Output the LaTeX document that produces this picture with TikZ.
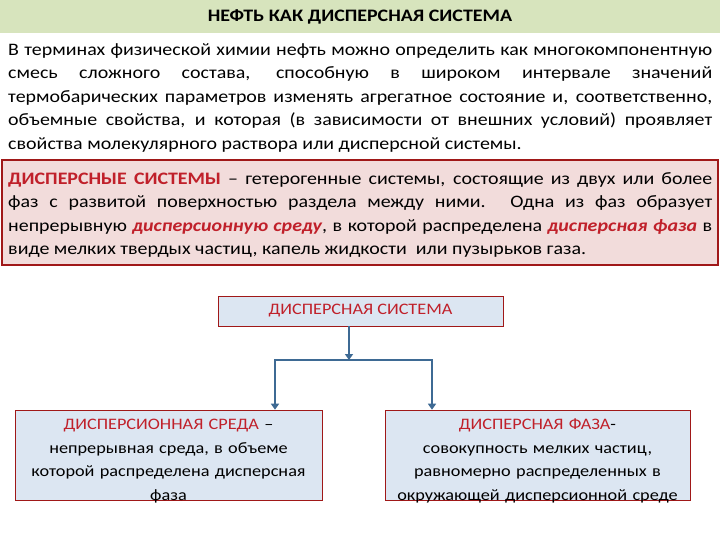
\documentclass[tikz,border=0pt]{standalone}
\usepackage{fontspec}
\setmainfont{Carlito}[FakeStretch=1.14]
\usetikzlibrary{arrows.meta}
\definecolor{dred}{HTML}{C0202A}
\definecolor{bord}{HTML}{A01818}
\definecolor{pinkf}{HTML}{F2DCDB}
\definecolor{bluef}{HTML}{DCE6F2}
\definecolor{greenf}{HTML}{D7E4BD}
\definecolor{steel}{HTML}{3E6A94}
\begin{document}
\begin{tikzpicture}[x=1pt,y=-1pt,
  para/.style={anchor=north west,inner sep=0pt,text width=704pt,align=justify,font=\fontsize{17.5}{23.6}\selectfont},
  box/.style={draw=bord,line width=0.6pt,fill=bluef,inner sep=0pt,align=center,font=\fontsize{16}{23.5}\selectfont},
  btext/.style={inner sep=0pt,align=center,text width=300pt,font=\fontsize{16}{23.5}\selectfont},
  conn/.style={steel,line width=2.8pt,-{Triangle[length=6pt,width=8pt]}}]
\useasboundingbox (0,0) rectangle (720,540);
\fill[white] (0,0) rectangle (720,540);
\fill[greenf] (0,0) rectangle (720,33);
\node[font=\bfseries\fontsize{17.5}{18}\selectfont] (title) at (360,17) {НЕФТЬ КАК ДИСПЕРСНАЯ СИСТЕМА};
\node[para] (p1) at (8,43) {В терминах физической химии нефть можно определить как многокомпонентную\linebreak
смесь сложного состава, способную в широком интервале значений\linebreak
термобарических параметров изменять агрегатное состояние и, соответственно,\linebreak
объемные свойства, и которая (в зависимости от внешних условий) проявляет\linebreak
свойства молекулярного раствора или дисперсной системы.};
\draw[bord,fill=pinkf,line width=1.2pt] (2,160) rectangle (718,265);
\node[para] (p2) at (8,172) {{\color{dred}\bfseries ДИСПЕРСНЫЕ СИСТЕМЫ} – гетерогенные системы, состоящие из двух или более\linebreak
фаз с развитой поверхностью раздела между ними. Одна из фаз образует\linebreak
непрерывную {\color{dred}\bfseries\itshape дисперсионную среду}, в которой распределена {\color{dred}\bfseries\itshape дисперсная фаза} в\linebreak
виде мелких твердых частиц, капель жидкости \ или пузырьков газа.};
\node[box,minimum width=285pt,minimum height=30pt,text=dred] (top) at (360.5,311) {\raisebox{-2pt}{ДИСПЕРСНАЯ СИСТЕМА}};
\node[box,minimum width=307pt,minimum height=90pt] (left) at (168.5,455) {};
\node[btext] (lefttext) at (168.5,461) {{\color{dred}ДИСПЕРСИОННАЯ СРЕДА} –\\непрерывная среда, в объеме\\которой распределена дисперсная\\фаза};
\node[box,minimum width=305pt,minimum height=90pt] (right) at (537.5,455) {};
\node[btext] (righttext) at (537.5,461) {{\color{dred}ДИСПЕРСНАЯ ФАЗА}-\\совокупность мелких частиц,\\равномерно распределенных в\\окружающей дисперсионной среде};
\coordinate (j) at (349,360);
\coordinate (jl) at (275,360);
\coordinate (jr) at (432,360);
\draw[conn] (top.south -| j) -- (j);
\draw[conn] (jl) -- (jl |- left.north);
\draw[conn] (jr) -- (jr |- right.north);
\draw[steel,line width=2.8pt,line cap=rect] (jl) -- (jr);
\end{tikzpicture}
\end{document}
